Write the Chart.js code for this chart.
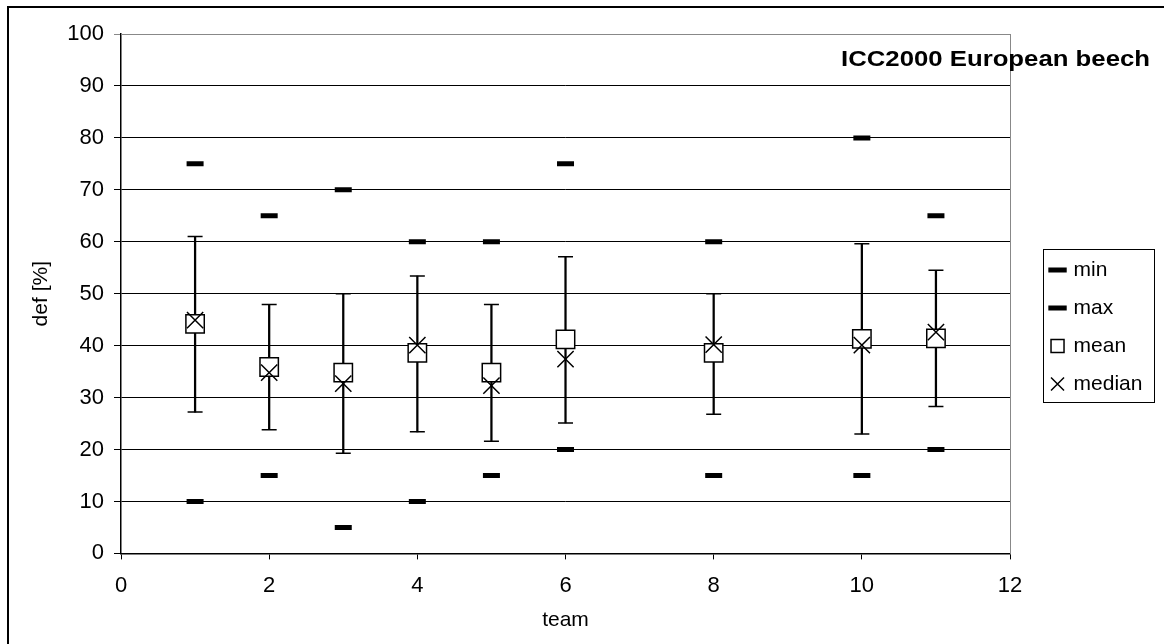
<!DOCTYPE html>
<html>
<head>
<meta charset="utf-8">
<script src="https://cdn.jsdelivr.net/npm/chart.js@4.4.0/dist/chart.umd.min.js"></script>
<style>
  html, body { margin:0; padding:0; background:#fff; overflow:hidden; }
  #wrap { position:relative; width:1164px; height:644px; }
  #frame { position:absolute; left:7px; top:6px; width:1200px; height:700px; border-left:2px solid #000; border-top:2px solid #000; }
  #chart { position:absolute; left:0; top:0; }
  #title { position:absolute; left:841px; top:48px; font-family:'Liberation Sans', Arial, sans-serif; font-weight:bold; font-size:22px; line-height:22px; color:#000; white-space:nowrap; transform:scaleX(1.17); transform-origin:0 0; }
</style>
</head>
<body>
<div id="wrap">
  <div id="frame"></div>
  <canvas id="chart" width="1164" height="644"></canvas>
  <div id="title">ICC2000 European beech</div>
</div>
<script>
// values
const teams      = [1, 2, 3, 4, 5, 6, 8, 10, 11];
const minVals    = [10, 15, 5, 10, 15, 20, 15, 15, 20];
const maxVals    = [75, 65, 70, 60, 60, 75, 60, 80, 65];
const meanVals   = [44.2, 35.9, 34.8, 38.6, 34.8, 41.2, 38.6, 41.3, 41.4];
const medianVals = [44.9, 34.8, 32.7, 40.1, 32.3, 37.4, 40.2, 40.1, 42.6];
const errLow     = [27.2, 23.8, 19.3, 23.4, 21.6, 25.1, 26.8, 23.0, 28.3];
const errHigh    = [61.0, 47.9, 50.0, 53.4, 47.9, 57.1, 50.0, 59.6, 54.5];
const xTicks = { min: 0, max: 12, step: 2 };
const yTicks = { min: 0, max: 100, step: 10 };

const FONT = "'Liberation Sans', Arial, sans-serif";
const pts = vals => teams.map((t, i) => ({ x: t, y: vals[i] }));

// draws the box round the legend items
const legendBox = {
  id: 'legendBox',
  afterDraw(chart){
    const lg = chart.legend;
    const hb = lg && lg.legendHitBoxes;
    if (!hb || !hb.length) return;
    const ctx = chart.ctx;
    const x0 = Math.round(lg.left + 8), x1 = Math.round(lg.left + 119);
    const y0 = Math.round(hb[0].top - 11), y1 = Math.round(hb[hb.length-1].top + 28);
    ctx.save();
    ctx.strokeStyle = '#000';
    ctx.lineWidth = 1;
    ctx.strokeRect(x0 + 0.5, y0 + 0.5, x1 - x0, y1 - y0);
    ctx.restore();
  }
};

const ctx = document.getElementById('chart').getContext('2d');
new Chart(ctx, {
  type: 'scatter',
  data: {
    datasets: [
      { label:'min', data: pts(minVals), pointStyle:'line', pointRadius:8.5, pointBorderWidth:5,
        pointBorderColor:'#000', pointBackgroundColor:'#000', borderColor:'#000', order:2 },
      { label:'max', data: pts(maxVals), pointStyle:'line', pointRadius:8.5, pointBorderWidth:5,
        pointBorderColor:'#000', pointBackgroundColor:'#000', borderColor:'#000', order:2 },
      { label:'mean', data: pts(meanVals), pointStyle:'rect', pointRadius:13, pointBorderWidth:1.5,
        pointBorderColor:'#000', pointBackgroundColor:'#fff', borderColor:'#000', backgroundColor:'#fff', order:1 },
      { label:'median', data: pts(medianVals), pointStyle:'crossRot', pointRadius:11.5, pointBorderWidth:1.5,
        pointBorderColor:'#000', pointBackgroundColor:'#000', borderColor:'#000', order:0 },
      // error bar caps
      { label:'errHigh', data: pts(errHigh), pointStyle:'line', pointRadius:7.5, pointBorderWidth:1.5,
        pointBorderColor:'#000', borderColor:'#000', order:3 },
      { label:'errLow', data: pts(errLow), pointStyle:'line', pointRadius:7.5, pointBorderWidth:1.5,
        pointBorderColor:'#000', borderColor:'#000', order:3 },
      // error bar stems
      { type:'bar', label:'range', data: teams.map((t, i) => ({ x: t, y: [errLow[i], errHigh[i]] })),
        backgroundColor:'#000', borderWidth:0, barThickness:1.6, order:4 }
    ]
  },
  options: {
    responsive: false,
    animation: false,
    events: [],
    layout: { padding: { left: 10, right: 11.6, top: 18, bottom: 8 } },
    plugins: {
      tooltip: { enabled: false },
      legend: {
        position: 'right',
        labels: {
          usePointStyle: true, boxWidth: 11, boxHeight: 13, padding: 17,
          color: '#000', font: { family: FONT, size: 21 },
          filter: item => item.datasetIndex < 4,
          sort: (a, b) => a.datasetIndex - b.datasetIndex
        }
      }
    },
    scales: {
      x: {
        type: 'linear', position: 'bottom', min: xTicks.min, max: xTicks.max, offset: false,
        ticks: { stepSize: xTicks.step, color: '#000', font: { family: FONT, size: 22 }, padding: 13.8 },
        grid: { drawOnChartArea: false, tickLength: 6, color: '#000', offset: false },
        border: { color: '#000', width: 1.5 },
        title: { display: true, text: 'team', color: '#000', font: { family: FONT, size: 21 }, padding: { top: -5.6, bottom: 3 } }
      },
      y: {
        type: 'linear', position: 'left', min: yTicks.min, max: yTicks.max,
        ticks: { stepSize: yTicks.step, color: '#000', font: { family: FONT, size: 22 }, padding: 10 },
        grid: { tickLength: 7, lineWidth: 1, color: c => (c.tick && c.tick.value === 100) ? '#888' : '#000' },
        border: { color: '#000', width: 1.5 },
        title: { display: true, text: 'def [%]', color: '#000', font: { family: FONT, size: 21 }, padding: { top: 18.4, bottom: 3.7 } }
      },
      // spacers: plot area border on top and right
      x2: {
        type: 'linear', position: 'top', display: true,
        ticks: { display: false }, grid: { display: false },
        border: { color: '#888', width: 1 },
        afterFit: s => { s.height = 16; }
      },
      y2: {
        type: 'linear', position: 'right', display: true,
        ticks: { display: false }, grid: { display: false },
        border: { color: '#888', width: 1 },
        afterFit: s => { s.width = 25; }
      }
    }
  },
  plugins: [legendBox]
});
</script>
</body>
</html>
